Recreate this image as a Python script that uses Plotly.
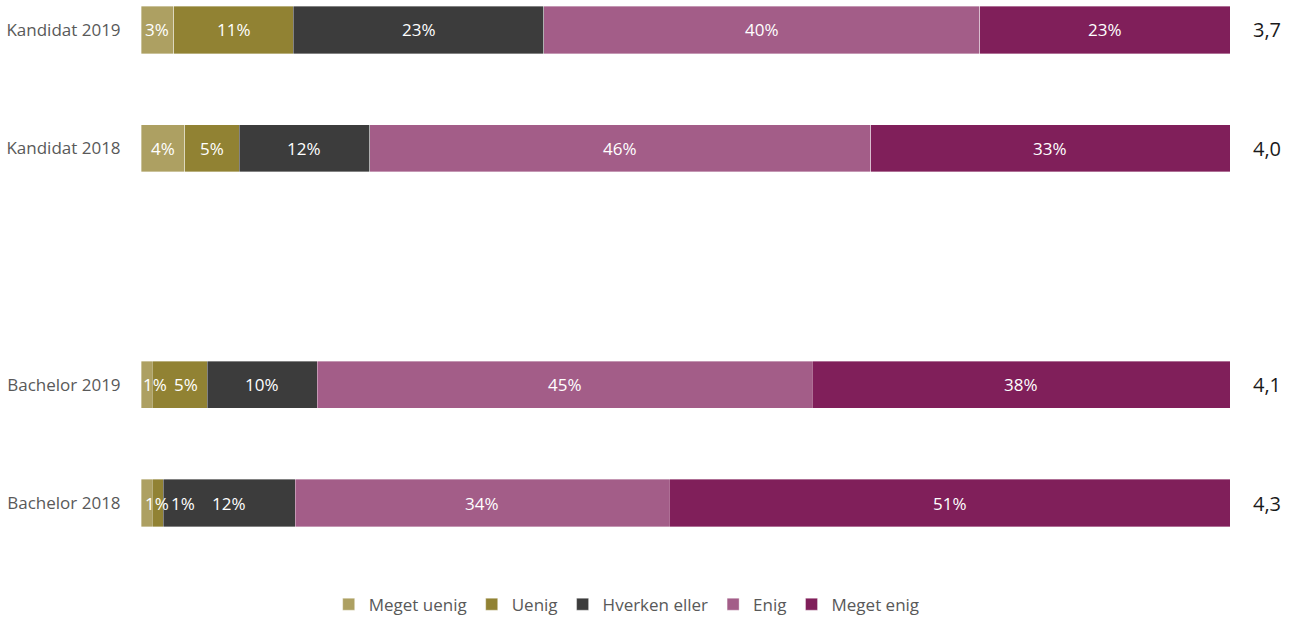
import plotly.graph_objects as go

categories = ["Bachelor 2018", "Bachelor 2019", " ", "Kandidat 2018", "Kandidat 2019"]
rows = ["Bachelor 2018", "Bachelor 2019", "Kandidat 2018", "Kandidat 2019"]
series = ["Meget uenig", "Uenig", "Hverken eller", "Enig", "Meget enig"]
colors = ["#ADA062", "#918233", "#3C3C3C", "#A35D88", "#801F5A"]

meget_uenig = [1, 1, 4, 3]
uenig = [1, 5, 5, 11]
hverken = [12, 10, 12, 23]
enig = [34, 45, 46, 40]
meget_enig = [51, 38, 33, 23]
averages = ["4,3", "4,1", "4,0", "3,7"]

values = [meget_uenig, uenig, hverken, enig, meget_enig]

# small label nudges (pixels) for crowded labels: (row, series) -> shift
label_shift = {(0, 0): 10, (0, 1): 25, (1, 0): 8, (1, 1): 6}

FONT = "Open Sans"
fig = go.Figure()
for name, col, vals in zip(series, colors, values):
    fig.add_trace(go.Bar(
        y=rows, x=vals, name=name, orientation="h",
        marker=dict(color=col, line=dict(color="rgba(255,255,255,0.45)", width=0.8)),
        width=0.4, hoverinfo="skip",
    ))

annotations = []
for r, row in enumerate(rows):
    total = sum(v[r] for v in values)
    cum = 0.0
    for s in range(len(series)):
        v = values[s][r]
        pct = v / total * 100
        mid = cum + pct / 2
        cum += pct
        annotations.append(dict(
            x=mid, y=row, xref="x", yref="y", text=f"{v}%", showarrow=False,
            xshift=label_shift.get((r, s), 0),
            font=dict(family=FONT, size=17, color="white"),
        ))
    annotations.append(dict(
        x=1.019, y=row, xref="paper", yref="y", text=averages[r], showarrow=False,
        xanchor="left", font=dict(family=FONT, size=20, color="#1a1a1a"),
    ))

fig.update_layout(
    barmode="stack", barnorm="percent",
    width=1296, height=619,
    margin=dict(l=141, r=66, t=5, b=59, autoexpand=False),
    plot_bgcolor="white", paper_bgcolor="white",
    font=dict(family=FONT),
    xaxis=dict(range=[0, 100], showgrid=False, zeroline=False, showticklabels=False,
               showline=False, fixedrange=True, automargin=False),
    yaxis=dict(type="category", categoryorder="array", categoryarray=categories,
               range=[-0.482, 4.211], showgrid=False, zeroline=False, showline=False,
               ticks="outside", ticklen=16, tickcolor="white", automargin=False,
               fixedrange=True,
               tickfont=dict(family=FONT, size=17, color="#595959")),
    legend=dict(orientation="h", x=0.446, xanchor="center", y=-0.048, yanchor="top",
                font=dict(family=FONT, size=17, color="#595959"),
                traceorder="normal", itemwidth=30),
    annotations=annotations,
    showlegend=True,
)

fig.write_html("out.html", config={"displayModeBar": False},
               post_script="document.body.style.margin='0';document.body.style.overflow='hidden';")
